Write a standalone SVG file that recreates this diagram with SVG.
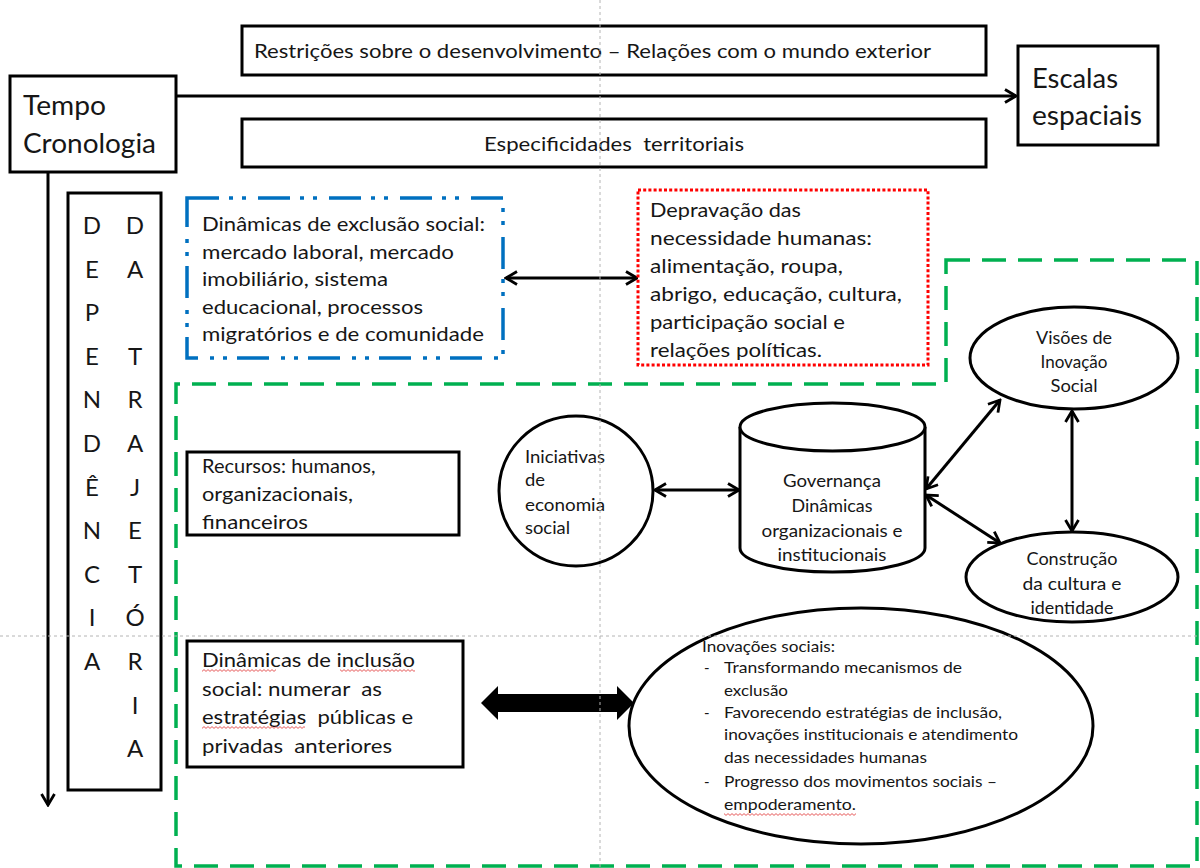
<svg xmlns="http://www.w3.org/2000/svg" width="1200" height="868" viewBox="0 0 1200 868">
<defs>
<style>
text{font-family:Lato,"Open Sans","Liberation Sans",sans-serif;fill:#161616;white-space:pre}
.box{fill:#fff;stroke:#000;stroke-width:3}
.ell{fill:#fff;stroke:#000;stroke-width:3}
.conn{stroke:#000;stroke-width:3;fill:none;marker-start:url(#ah);marker-end:url(#ah)}
.t195{font-size:19.5px}
.t26{font-size:26px}
.t24{font-size:24px}
.t20{font-size:20px}
.t165{font-size:16.5px}
.t15{font-size:15px}
.mid{text-anchor:middle}
.guide{stroke:#b4b4b4;stroke-width:1;stroke-dasharray:3 3;fill:none}
</style>
<marker id="ah" viewBox="0 0 16 16" refX="14" refY="8" markerWidth="16" markerHeight="16" markerUnits="userSpaceOnUse" orient="auto-start-reverse">
<path d="M3,1.5 L14,8 L3,14.5" fill="none" stroke="#000" stroke-width="2.8"/>
</marker>
<pattern id="wavy" width="4" height="3" patternUnits="userSpaceOnUse">
<path d="M0,0.6 L2,2.4 L4,0.6" fill="none" stroke="#e03030" stroke-width="0.8"/>
</pattern>
</defs>
<rect width="1200" height="868" fill="#fff"/>

<g id="connectors">
<line x1="176" y1="96" x2="1016" y2="96" stroke="#000" stroke-width="3" marker-end="url(#ah)"/>
<line x1="48" y1="172" x2="48" y2="805" stroke="#000" stroke-width="3" marker-end="url(#ah)"/>
<line class="conn" x1="506" y1="278" x2="637" y2="278"/>
<line class="conn" x1="655" y1="490" x2="739" y2="490"/>
<line class="conn" x1="926" y1="489" x2="1000" y2="400"/>
<line class="conn" x1="926" y1="495" x2="1000" y2="543"/>
<line class="conn" x1="1072" y1="411" x2="1072" y2="531"/>
<polygon points="481,703 498,686 498,694 617,694 617,686 634,703 617,720 617,712 498,712 498,720" fill="#000"/>
</g>

<g id="green-region">
<path d="M946,260 L1197,260 L1197,866 L176,866 L176,384 L946,384 Z" fill="none" stroke="#00b050" stroke-width="3.5" stroke-dasharray="24 12"/>
</g>

<g id="tempo">
<rect class="box" x="10" y="76" width="166" height="96"/>
<text class="t26" x="23" y="115" textLength="83" lengthAdjust="spacingAndGlyphs">Tempo</text>
<text class="t26" x="23" y="153" textLength="133" lengthAdjust="spacingAndGlyphs">Cronologia</text>
</g>

<g id="restricoes">
<rect class="box" x="242" y="26" width="744" height="49"/>
<text class="t195" x="254" y="58" textLength="677" lengthAdjust="spacingAndGlyphs">Restrições sobre o desenvolvimento – Relações com o mundo exterior</text>
</g>

<g id="especificidades">
<rect class="box" x="242" y="119" width="744" height="48"/>
<text class="t195 mid" x="614" y="151" textLength="260" lengthAdjust="spacingAndGlyphs">Especificidades  territoriais</text>
</g>

<g id="escalas">
<rect class="box" x="1018" y="46" width="140" height="99"/>
<text class="t26" x="1032" y="88" textLength="86" lengthAdjust="spacingAndGlyphs">Escalas</text>
<text class="t26" x="1032" y="125" textLength="110" lengthAdjust="spacingAndGlyphs">espaciais</text>
</g>

<g id="dependencia">
<rect class="box" x="68" y="193" width="93" height="597"/>
<g class="t24 mid">
<text x="92" y="234">D</text><text x="92" y="277.6">E</text><text x="92" y="321.2">P</text><text x="92" y="364.8">E</text><text x="92" y="408.4">N</text><text x="92" y="452">D</text><text x="92" y="495.6">Ê</text><text x="92" y="539.2">N</text><text x="92" y="582.8">C</text><text x="92" y="626.4">I</text><text x="92" y="670">A</text>
<text x="135" y="234">D</text><text x="135" y="277.6">A</text><text x="135" y="364.8">T</text><text x="135" y="408.4">R</text><text x="135" y="452">A</text><text x="135" y="495.6">J</text><text x="135" y="539.2">E</text><text x="135" y="582.8">T</text><text x="135" y="626.4">Ó</text><text x="135" y="670">R</text><text x="135" y="713.6">I</text><text x="135" y="757.2">A</text>
</g>
</g>

<g id="exclusao">
<rect x="187" y="198" width="316" height="160" fill="#fff" stroke="#0070c0" stroke-width="3.5" stroke-dasharray="32 10 4 9 4 12"/>
<g class="t20">
<text x="202" y="231" textLength="283" lengthAdjust="spacingAndGlyphs">Dinâmicas de exclusão social:</text>
<text x="202" y="258.5" textLength="252" lengthAdjust="spacingAndGlyphs">mercado laboral, mercado</text>
<text x="202" y="286" textLength="186" lengthAdjust="spacingAndGlyphs">imobiliário, sistema</text>
<text x="202" y="313.5" textLength="221" lengthAdjust="spacingAndGlyphs">educacional, processos</text>
<text x="202" y="341" textLength="282" lengthAdjust="spacingAndGlyphs">migratórios e de comunidade</text>
</g>
</g>

<g id="depravacao">
<rect x="638" y="190" width="290" height="175" fill="#fff" stroke="#ff0000" stroke-width="3" stroke-dasharray="3 2.2"/>
<g class="t20">
<text x="650" y="217" textLength="151" lengthAdjust="spacingAndGlyphs">Depravação das</text>
<text x="650" y="245" textLength="222" lengthAdjust="spacingAndGlyphs">necessidade humanas:</text>
<text x="650" y="273" textLength="193" lengthAdjust="spacingAndGlyphs">alimentação, roupa,</text>
<text x="650" y="301" textLength="252" lengthAdjust="spacingAndGlyphs">abrigo, educação, cultura,</text>
<text x="650" y="329" textLength="195" lengthAdjust="spacingAndGlyphs">participação social e</text>
<text x="650" y="357" textLength="172" lengthAdjust="spacingAndGlyphs">relações políticas.</text>
</g>
</g>

<g id="recursos">
<rect class="box" x="187" y="452" width="272" height="83"/>
<g class="t20">
<text x="202" y="473">Recursos: humanos,</text>
<text x="202" y="501" textLength="151" lengthAdjust="spacingAndGlyphs">organizacionais,</text>
<text x="202" y="529" textLength="106" lengthAdjust="spacingAndGlyphs">financeiros</text>
</g>
</g>

<g id="iniciativas">
<ellipse class="ell" cx="576" cy="491" rx="77" ry="75"/>
<g class="t165">
<text x="525" y="463" textLength="80" lengthAdjust="spacingAndGlyphs">Iniciativas</text>
<text x="525" y="486" textLength="20" lengthAdjust="spacingAndGlyphs">de</text>
<text x="525" y="511" textLength="80" lengthAdjust="spacingAndGlyphs">economia</text>
<text x="525" y="534" textLength="45" lengthAdjust="spacingAndGlyphs">social</text>
</g>
</g>

<g id="governanca">
<path d="M740,427 V548 A92.5,24 0 0 0 925,548 V427" class="ell"/>
<ellipse class="ell" cx="832.5" cy="427" rx="92.5" ry="24"/>
<g class="t165 mid">
<text x="832" y="487" textLength="98" lengthAdjust="spacingAndGlyphs">Governança</text>
<text x="832" y="512" textLength="81" lengthAdjust="spacingAndGlyphs">Dinâmicas</text>
<text x="832" y="537" textLength="141" lengthAdjust="spacingAndGlyphs">organizacionais e</text>
<text x="832" y="561" textLength="109" lengthAdjust="spacingAndGlyphs">institucionais</text>
</g>
</g>

<g id="visoes">
<ellipse class="ell" cx="1074" cy="358" rx="104" ry="51"/>
<g class="t165 mid">
<text x="1074" y="344" textLength="76" lengthAdjust="spacingAndGlyphs">Visões de</text>
<text x="1074" y="368" textLength="67" lengthAdjust="spacingAndGlyphs">Inovação</text>
<text x="1074" y="392" textLength="47" lengthAdjust="spacingAndGlyphs">Social</text>
</g>
</g>

<g id="inovacoes">
<ellipse class="ell" cx="861" cy="726" rx="232" ry="118"/>
<g class="t15">
<text x="702" y="652" textLength="133" lengthAdjust="spacingAndGlyphs">Inovações sociais:</text>
<text x="704" y="673">-</text>
<text x="724" y="673" textLength="238" lengthAdjust="spacingAndGlyphs">Transformando mecanismos de</text>
<text x="724" y="696" textLength="64" lengthAdjust="spacingAndGlyphs">exclusão</text>
<text x="704" y="718">-</text>
<text x="724" y="718" textLength="278" lengthAdjust="spacingAndGlyphs">Favorecendo estratégias de inclusão,</text>
<text x="724" y="740" textLength="294" lengthAdjust="spacingAndGlyphs">inovações institucionais e atendimento</text>
<text x="724" y="763" textLength="203" lengthAdjust="spacingAndGlyphs">das necessidades humanas</text>
<text x="704" y="787">-</text>
<text x="724" y="787" textLength="273" lengthAdjust="spacingAndGlyphs">Progresso dos movimentos sociais –</text>
<text x="724" y="810" textLength="132" lengthAdjust="spacingAndGlyphs">empoderamento.</text>
</g>
<rect x="724" y="813" width="132" height="3" fill="url(#wavy)"/>
</g>

<g id="construcao">
<ellipse class="ell" cx="1072" cy="577" rx="106" ry="45"/>
<g class="t165 mid">
<text x="1072" y="565" textLength="91" lengthAdjust="spacingAndGlyphs">Construção</text>
<text x="1072" y="590" textLength="99" lengthAdjust="spacingAndGlyphs">da cultura e</text>
<text x="1072" y="614" textLength="83" lengthAdjust="spacingAndGlyphs">identidade</text>
</g>
</g>

<g id="inclusao">
<rect class="box" x="187" y="641" width="276" height="126"/>
<g class="t20">
<text x="202" y="667" textLength="213" lengthAdjust="spacingAndGlyphs">Dinâmicas de inclusão</text>
<text x="202" y="696" textLength="180" lengthAdjust="spacingAndGlyphs">social: numerar  as</text>
<text x="202" y="724" textLength="211" lengthAdjust="spacingAndGlyphs">estratégias  públicas e</text>
<text x="202" y="753" textLength="190" lengthAdjust="spacingAndGlyphs">privadas  anteriores</text>
</g>
<rect x="202" y="669" width="74" height="3" fill="url(#wavy)"/>
<rect x="340" y="669" width="75" height="3" fill="url(#wavy)"/>
<rect x="202" y="726" width="103" height="3" fill="url(#wavy)"/>
</g>

<g id="guides">
<line class="guide" x1="600" y1="0" x2="600" y2="868"/>
<line class="guide" x1="0" y1="636" x2="1200" y2="636"/>
</g>
</svg>
